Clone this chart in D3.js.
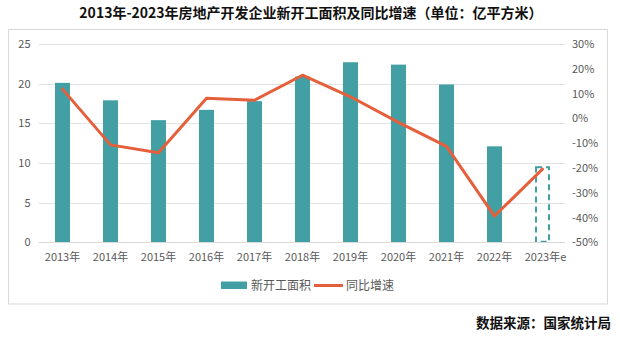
<!DOCTYPE html>
<html>
<head>
<meta charset="utf-8">
<script src="https://cdn.jsdelivr.net/npm/d3@7"></script>
<style>
  body { margin: 0; background: #fff; }
  svg { display: block; }
</style>
</head>
<body>
<svg id="chart" width="620" height="341"></svg>
<script>
// 房地产开发企业新开工面积（亿平方米）与同比增速（%）
const years = ["2013年", "2014年", "2015年", "2016年", "2017年", "2018年", "2019年", "2020年", "2021年", "2022年", "2023年e"];
const area = [20.1, 17.9, 15.4, 16.7, 17.8, 20.9, 22.7, 22.4, 19.9, 12.1, 9.6];
const growth = [11.8, -10.7, -13.9, 8.1, 7.3, 17.4, 8.7, -1.6, -11.3, -39.4, -20.5];
const leftTicks = [0, 5, 10, 15, 20, 25];
const rightTicks = [-50, -40, -30, -20, -10, 0, 10, 20, 30];
const estimateIndex = 10;

const teal = "#429FA4";
const orange = "#E55F3B";
const grid = "#E2E2E2";
const textColor = "#595959";
const font = "'Microsoft YaHei', 'Noto Sans CJK SC', sans-serif";

const svg = d3.select("#chart");

// 标题
svg.append("text")
  .attr("x", 311).attr("y", 18)
  .attr("text-anchor", "middle")
  .style("font-family", "'Noto Sans CJK SC', sans-serif")
  .style("font-weight", "bold")
  .style("font-size", "14px")
  .attr("fill", "#111")
  .text("2013年-2023年房地产开发企业新开工面积及同比增速（单位：亿平方米）");

// 外框
svg.append("rect")
  .attr("x", 8.5).attr("y", 29.5)
  .attr("width", 599).attr("height", 274.5)
  .attr("fill", "none").attr("stroke", "#D9D9D9").attr("stroke-width", 1);

const plot = { left: 38.5, right: 566.5, top: 44, bottom: 242.3 };

const x = d3.scaleBand().domain(years).range([plot.left, plot.right]).paddingInner(0.6875).paddingOuter(0.34375);
const yL = d3.scaleLinear().domain([0, 25]).range([plot.bottom, plot.top]);
const yR = d3.scaleLinear().domain([-50, 30]).range([plot.bottom, plot.top]);

// 网格线
svg.append("g").selectAll("line").data(leftTicks.filter(d => d > 0)).join("line")
  .attr("x1", plot.left).attr("x2", plot.right - 1.5)
  .attr("y1", d => Math.round(yL(d)) + 0.5).attr("y2", d => Math.round(yL(d)) + 0.5)
  .attr("stroke", grid).attr("stroke-width", 1);

// 左轴
const axisL = svg.append("g").attr("transform", `translate(${plot.left - 8},0)`)
  .call(d3.axisLeft(yL).tickValues(leftTicks).tickSize(0).tickPadding(0));
axisL.select(".domain").remove();
axisL.selectAll("text").style("font-family", font).style("font-size", "11px").attr("fill", textColor);

// 右轴
const axisR = svg.append("g").attr("transform", `translate(572,0)`)
  .call(d3.axisRight(yR).tickValues(rightTicks).tickSize(0).tickPadding(0).tickFormat(d => d + "%"));
axisR.select(".domain").remove();
axisR.selectAll("text").style("font-family", font).style("font-size", "11px").attr("fill", textColor);

// 柱形
const bw = x.bandwidth();
svg.append("g").selectAll("rect").data(years.map((y, i) => ({ y, v: area[i], i })).filter(d => d.i !== estimateIndex)).join("rect")
  .attr("x", d => x(d.y)).attr("width", bw)
  .attr("y", d => yL(d.v)).attr("height", d => yL(0) - yL(d.v))
  .attr("fill", teal);

// 预估值：虚线框
const ex = x(years[estimateIndex]);
svg.append("rect")
  .attr("x", ex + 1).attr("y", yL(area[estimateIndex]) + 1)
  .attr("width", bw - 2).attr("height", yL(0) - yL(area[estimateIndex]) - 1.5)
  .attr("fill", "none").attr("stroke", teal).attr("stroke-width", 2)
  .attr("stroke-dasharray", "6,4");

// 基线
svg.append("line")
  .attr("x1", plot.left).attr("x2", plot.right - 1.5)
  .attr("y1", Math.round(yL(0)) + 0.5).attr("y2", Math.round(yL(0)) + 0.5)
  .attr("stroke", "#D9D9D9").attr("stroke-width", 1);

// 增速折线
const line = d3.line().x((d, i) => x(years[i]) + bw / 2).y(d => yR(d));
svg.append("path").datum(growth)
  .attr("d", line)
  .attr("fill", "none").attr("stroke", orange).attr("stroke-width", 3)
  .attr("stroke-linejoin", "round").attr("stroke-linecap", "round");

// 横轴标签
svg.append("g").selectAll("text").data(years).join("text")
  .attr("x", d => x(d) + bw / 2 + (d.endsWith("e") ? 3 : 0)).attr("y", 261)
  .attr("text-anchor", "middle")
  .style("font-family", font).style("font-size", "11px").attr("fill", textColor)
  .text(d => d);

// 图例
const lg = svg.append("g");
lg.append("rect").attr("x", 221).attr("y", 281.5).attr("width", 26).attr("height", 7.5).attr("fill", teal);
lg.append("text").attr("x", 251).attr("y", 289.5)
  .style("font-family", font).style("font-size", "12px").attr("fill", textColor).text("新开工面积");
lg.append("line").attr("x1", 314).attr("x2", 343).attr("y1", 285.5).attr("y2", 285.5)
  .attr("stroke", orange).attr("stroke-width", 3);
lg.append("text").attr("x", 346).attr("y", 289.5)
  .style("font-family", font).style("font-size", "12px").attr("fill", textColor).text("同比增速");

// 数据来源
svg.append("text")
  .attr("x", 611).attr("y", 328)
  .attr("text-anchor", "end")
  .style("font-family", "'Noto Sans CJK SC', sans-serif")
  .style("font-weight", "bold").style("font-size", "13.5px")
  .attr("fill", "#111")
  .text("数据来源：国家统计局");
</script>
</body>
</html>
